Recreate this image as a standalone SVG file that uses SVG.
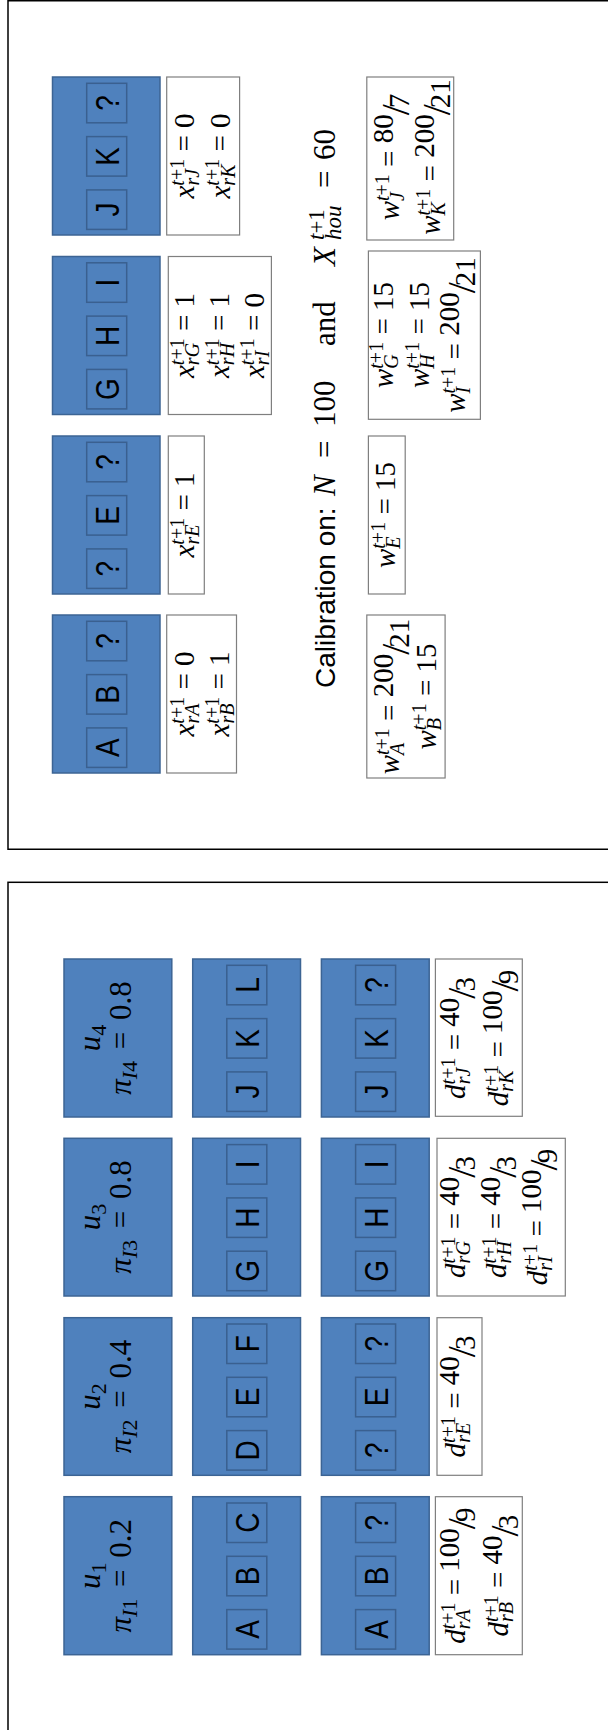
<svg xmlns="http://www.w3.org/2000/svg" width="608" height="1730" viewBox="0 0 608 1730">
<style>
.frame{fill:none;stroke:#000;stroke-width:1.5}
.bb{fill:#4F81BD;stroke:#3C6494;stroke-width:1.5}
.ib{fill:#4F81BD;stroke:#3A6090;stroke-width:1.5}
.wb{fill:#fff;stroke:#7F7F7F;stroke-width:1.2}
.lt{font-family:"Liberation Sans",Arial,sans-serif;font-size:28px;fill:#000;text-anchor:middle}
.m{font-family:"Liberation Serif","Times New Roman",serif;font-size:29px;fill:#000;text-anchor:middle}
.u{font-family:"Liberation Serif","Times New Roman",serif;font-size:31px;fill:#000;text-anchor:middle}
.cal{font-family:"Liberation Serif","Times New Roman",serif;font-size:31px;fill:#000}
.sans{font-family:"Liberation Sans",Arial,sans-serif;font-size:28px}
.i{font-style:italic}
.s{font-size:20px}
.su{font-size:22px}
.fs{font-size:40px}
</style>
<rect class="frame" x="8" y="0.75" width="660" height="848.5"/>
<rect class="frame" x="8" y="882.3" width="660" height="900"/>
<g id="connectors"/>

<!-- TOP PANEL -->
<g id="top-jk">
<rect class="bb" x="52.5" y="77" width="107.5" height="158"/>
<rect class="ib" x="86.7" y="83.3" width="40" height="39.5"/>
<rect class="ib" x="86.7" y="136.6" width="40" height="39.5"/>
<rect class="ib" x="86.7" y="189.9" width="40" height="39.5"/>
<text class="lt" transform="translate(118.7,103) rotate(-90) scale(1,1.2)">?</text>
<text class="lt" transform="translate(118.7,156.3) rotate(-90) scale(1,1.2)">K</text>
<text class="lt" transform="translate(118.7,209.6) rotate(-90) scale(1,1.2)">J</text>
</g>
<g id="top-ghi">
<rect class="bb" x="52.5" y="256.5" width="107.5" height="158"/>
<rect class="ib" x="86.7" y="262.8" width="40" height="39.5"/>
<rect class="ib" x="86.7" y="316.1" width="40" height="39.5"/>
<rect class="ib" x="86.7" y="369.4" width="40" height="39.5"/>
<text class="lt" transform="translate(118.7,282.5) rotate(-90) scale(1,1.2)">I</text>
<text class="lt" transform="translate(118.7,335.8) rotate(-90) scale(1,1.2)">H</text>
<text class="lt" transform="translate(118.7,389.1) rotate(-90) scale(1,1.2)">G</text>
</g>
<g id="top-e">
<rect class="bb" x="52.5" y="436" width="107.5" height="158"/>
<rect class="ib" x="86.7" y="442.3" width="40" height="39.5"/>
<rect class="ib" x="86.7" y="495.6" width="40" height="39.5"/>
<rect class="ib" x="86.7" y="548.9" width="40" height="39.5"/>
<text class="lt" transform="translate(118.7,462) rotate(-90) scale(1,1.2)">?</text>
<text class="lt" transform="translate(118.7,515.3) rotate(-90) scale(1,1.2)">E</text>
<text class="lt" transform="translate(118.7,568.6) rotate(-90) scale(1,1.2)">?</text>
</g>
<g id="top-ab">
<rect class="bb" x="52.5" y="615" width="107.5" height="158"/>
<rect class="ib" x="86.7" y="621.3" width="40" height="39.5"/>
<rect class="ib" x="86.7" y="674.6" width="40" height="39.5"/>
<rect class="ib" x="86.7" y="727.9" width="40" height="39.5"/>
<text class="lt" transform="translate(118.7,641) rotate(-90) scale(1,1.2)">?</text>
<text class="lt" transform="translate(118.7,694.3) rotate(-90) scale(1,1.2)">B</text>
<text class="lt" transform="translate(118.7,747.6) rotate(-90) scale(1,1.2)">A</text>
</g>

<g id="x-jk">
<rect class="wb" x="166.7" y="77" width="72.9" height="158"/>
<text class="m" transform="translate(194,156) rotate(-90)"><tspan class="i">x</tspan><tspan class="s" dy="-10.5"><tspan class="i">t</tspan>+1</tspan><tspan class="s i" dx="-26.8" dy="15.5">rJ</tspan><tspan dx="10.1" dy="-5"> = 0</tspan></text>
<text class="m" transform="translate(229.5,156) rotate(-90)"><tspan class="i">x</tspan><tspan class="s" dy="-10.5"><tspan class="i">t</tspan>+1</tspan><tspan class="s i" dx="-26.8" dy="15.5">rK</tspan><tspan dx="5.7" dy="-5"> = 0</tspan></text>
</g>
<g id="x-ghi">
<rect class="wb" x="168.3" y="256.5" width="103.1" height="158"/>
<text class="m" transform="translate(194,335.5) rotate(-90)"><tspan class="i">x</tspan><tspan class="s" dy="-10.5"><tspan class="i">t</tspan>+1</tspan><tspan class="s i" dx="-26.8" dy="15.5">rG</tspan><tspan dx="4.6" dy="-5"> = 1</tspan></text>
<text class="m" transform="translate(229,335.5) rotate(-90)"><tspan class="i">x</tspan><tspan class="s" dy="-10.5"><tspan class="i">t</tspan>+1</tspan><tspan class="s i" dx="-26.8" dy="15.5">rH</tspan><tspan dx="4.6" dy="-5"> = 1</tspan></text>
<text class="m" transform="translate(264,335.5) rotate(-90)"><tspan class="i">x</tspan><tspan class="s" dy="-10.5"><tspan class="i">t</tspan>+1</tspan><tspan class="s i" dx="-26.8" dy="15.5">rI</tspan><tspan dx="12.4" dy="-5"> = 0</tspan></text>
</g>
<g id="x-e">
<rect class="wb" x="168.3" y="436" width="36" height="158"/>
<text class="m" transform="translate(194,515) rotate(-90)"><tspan class="i">x</tspan><tspan class="s" dy="-10.5"><tspan class="i">t</tspan>+1</tspan><tspan class="s i" dx="-26.8" dy="15.5">rE</tspan><tspan dx="6.8" dy="-5"> = 1</tspan></text>
</g>
<g id="x-ab">
<rect class="wb" x="166.7" y="615" width="69.8" height="158"/>
<text class="m" transform="translate(194,694) rotate(-90)"><tspan class="i">x</tspan><tspan class="s" dy="-10.5"><tspan class="i">t</tspan>+1</tspan><tspan class="s i" dx="-26.8" dy="15.5">rA</tspan><tspan dx="6.8" dy="-5"> = 0</tspan></text>
<text class="m" transform="translate(229,694) rotate(-90)"><tspan class="i">x</tspan><tspan class="s" dy="-10.5"><tspan class="i">t</tspan>+1</tspan><tspan class="s i" dx="-26.8" dy="15.5">rB</tspan><tspan dx="6.8" dy="-5"> = 1</tspan></text>
</g>

<g id="calibration">
<text class="cal" transform="translate(335,0) rotate(-90)"><tspan class="sans" x="-688">Calibration on:</tspan><tspan class="i" x="-496">N</tspan><tspan x="-458">=</tspan><tspan x="-427">100</tspan><tspan x="-346">and</tspan><tspan class="i" x="-266">X</tspan><tspan x="-240" dy="-11" font-size="23"><tspan class="i">t</tspan>+1</tspan><tspan class="i" x="-240" dy="17" font-size="23">hou</tspan><tspan x="-188" dy="-6">=</tspan><tspan x="-160">60</tspan></text>
</g>

<g id="w-jk">
<rect class="wb" x="366.8" y="77" width="86.9" height="163"/>
<text class="m" transform="translate(399,157) rotate(-90)"><tspan class="i">w</tspan><tspan class="s" dy="-10.5"><tspan class="i">t</tspan>+1</tspan><tspan class="s i" dx="-26.8" dy="15.5">J</tspan><tspan dx="17.9" dy="-5"> = </tspan><tspan dy="-6">80</tspan><tspan class="fs" dx="-1" dy="16">/</tspan><tspan dx="-4">7</tspan></text>
<text class="m" transform="translate(440,157) rotate(-90)"><tspan class="i">w</tspan><tspan class="s" dy="-10.5"><tspan class="i">t</tspan>+1</tspan><tspan class="s i" dx="-26.8" dy="15.5">K</tspan><tspan dx="13.5" dy="-5"> = </tspan><tspan dy="-6">200</tspan><tspan class="fs" dx="-1" dy="16">/</tspan><tspan dx="-4">21</tspan></text>
</g>
<g id="w-ghi">
<rect class="wb" x="368.4" y="251" width="112" height="168.3"/>
<text class="m" transform="translate(393,335) rotate(-90)"><tspan class="i">w</tspan><tspan class="s" dy="-10.5"><tspan class="i">t</tspan>+1</tspan><tspan class="s i" dx="-26.8" dy="15.5">G</tspan><tspan dx="12.4" dy="-5"> = 15</tspan></text>
<text class="m" transform="translate(429,335) rotate(-90)"><tspan class="i">w</tspan><tspan class="s" dy="-10.5"><tspan class="i">t</tspan>+1</tspan><tspan class="s i" dx="-26.8" dy="15.5">H</tspan><tspan dx="12.4" dy="-5"> = 15</tspan></text>
<text class="m" transform="translate(465,335) rotate(-90)"><tspan class="i">w</tspan><tspan class="s" dy="-10.5"><tspan class="i">t</tspan>+1</tspan><tspan class="s i" dx="-26.8" dy="15.5">I</tspan><tspan dx="20.1" dy="-5"> = </tspan><tspan dy="-6">200</tspan><tspan class="fs" dx="-1" dy="16">/</tspan><tspan dx="-4">21</tspan></text>
</g>
<g id="w-e">
<rect class="wb" x="368.4" y="436" width="36.8" height="158"/>
<text class="m" transform="translate(395,515) rotate(-90)"><tspan class="i">w</tspan><tspan class="s" dy="-10.5"><tspan class="i">t</tspan>+1</tspan><tspan class="s i" dx="-26.8" dy="15.5">E</tspan><tspan dx="14.6" dy="-5"> = 15</tspan></text>
</g>
<g id="w-ab">
<rect class="wb" x="366.8" y="615" width="78.3" height="163"/>
<text class="m" transform="translate(399,696.5) rotate(-90)"><tspan class="i">w</tspan><tspan class="s" dy="-10.5"><tspan class="i">t</tspan>+1</tspan><tspan class="s i" dx="-26.8" dy="15.5">A</tspan><tspan dx="14.6" dy="-5"> = </tspan><tspan dy="-6">200</tspan><tspan class="fs" dx="-1" dy="16">/</tspan><tspan dx="-4">21</tspan></text>
<text class="m" transform="translate(436,696.5) rotate(-90)"><tspan class="i">w</tspan><tspan class="s" dy="-10.5"><tspan class="i">t</tspan>+1</tspan><tspan class="s i" dx="-26.8" dy="15.5">B</tspan><tspan dx="14.6" dy="-5"> = 15</tspan></text>
</g>

<!-- BOTTOM PANEL -->
<g id="u4">
<rect class="bb" x="64" y="959" width="107.8" height="158"/>
<text class="u" transform="translate(100,1038) rotate(-90)"><tspan class="i">u</tspan><tspan class="su" dy="6">4</tspan></text>
<text class="u" transform="translate(131,1038) rotate(-90)"><tspan class="i">π</tspan><tspan class="su" dy="6"><tspan class="i">I</tspan>4</tspan><tspan dx="4" dy="-6"> = </tspan><tspan dx="4">0.8</tspan></text>
</g>
<g id="u4-set">
<rect class="bb" x="192.7" y="959" width="107.8" height="158"/>
<rect class="ib" x="226.8" y="965.3" width="40" height="39.5"/>
<rect class="ib" x="226.8" y="1018.6" width="40" height="39.5"/>
<rect class="ib" x="226.8" y="1071.9" width="40" height="39.5"/>
<text class="lt" transform="translate(258.8,985) rotate(-90) scale(1,1.2)">L</text>
<text class="lt" transform="translate(258.8,1038.3) rotate(-90) scale(1,1.2)">K</text>
<text class="lt" transform="translate(258.8,1091.6) rotate(-90) scale(1,1.2)">J</text>
</g>
<g id="u4-kept">
<rect class="bb" x="321.4" y="959" width="107.8" height="158"/>
<rect class="ib" x="355.6" y="965.3" width="40" height="39.5"/>
<rect class="ib" x="355.6" y="1018.6" width="40" height="39.5"/>
<rect class="ib" x="355.6" y="1071.9" width="40" height="39.5"/>
<text class="lt" transform="translate(387.6,985) rotate(-90) scale(1,1.2)">?</text>
<text class="lt" transform="translate(387.6,1038.3) rotate(-90) scale(1,1.2)">K</text>
<text class="lt" transform="translate(387.6,1091.6) rotate(-90) scale(1,1.2)">J</text>
</g>
<g id="d-jk">
<rect class="wb" x="435.4" y="959" width="86.9" height="157.3"/>
<text class="m" transform="translate(465,1038) rotate(-90)"><tspan class="i">d</tspan><tspan class="s" dy="-10.5"><tspan class="i">t</tspan>+1</tspan><tspan class="s i" dx="-26.8" dy="15.5">rJ</tspan><tspan dx="10.1" dy="-5"> = </tspan><tspan dy="-6">40</tspan><tspan class="fs" dx="-1" dy="16">/</tspan><tspan dx="-4">3</tspan></text>
<text class="m" transform="translate(508,1038) rotate(-90)"><tspan class="i">d</tspan><tspan class="s" dy="-10.5"><tspan class="i">t</tspan>+1</tspan><tspan class="s i" dx="-26.8" dy="15.5">rK</tspan><tspan dx="5.7" dy="-5"> = </tspan><tspan dy="-6">100</tspan><tspan class="fs" dx="-1" dy="16">/</tspan><tspan dx="-4">9</tspan></text>
</g>

<g id="u3">
<rect class="bb" x="64" y="1138.3" width="107.8" height="157.7"/>
<text class="u" transform="translate(100,1217) rotate(-90)"><tspan class="i">u</tspan><tspan class="su" dy="6">3</tspan></text>
<text class="u" transform="translate(131,1217) rotate(-90)"><tspan class="i">π</tspan><tspan class="su" dy="6"><tspan class="i">I</tspan>3</tspan><tspan dx="4" dy="-6"> = </tspan><tspan dx="4">0.8</tspan></text>
</g>
<g id="u3-set">
<rect class="bb" x="192.7" y="1138.3" width="107.8" height="157.7"/>
<rect class="ib" x="226.8" y="1144.6" width="40" height="39.5"/>
<rect class="ib" x="226.8" y="1197.9" width="40" height="39.5"/>
<rect class="ib" x="226.8" y="1251.2" width="40" height="39.5"/>
<text class="lt" transform="translate(258.8,1164.3) rotate(-90) scale(1,1.2)">I</text>
<text class="lt" transform="translate(258.8,1217.6) rotate(-90) scale(1,1.2)">H</text>
<text class="lt" transform="translate(258.8,1270.9) rotate(-90) scale(1,1.2)">G</text>
</g>
<g id="u3-kept">
<rect class="bb" x="321.4" y="1138.3" width="107.8" height="157.7"/>
<rect class="ib" x="355.6" y="1144.6" width="40" height="39.5"/>
<rect class="ib" x="355.6" y="1197.9" width="40" height="39.5"/>
<rect class="ib" x="355.6" y="1251.2" width="40" height="39.5"/>
<text class="lt" transform="translate(387.6,1164.3) rotate(-90) scale(1,1.2)">I</text>
<text class="lt" transform="translate(387.6,1217.6) rotate(-90) scale(1,1.2)">H</text>
<text class="lt" transform="translate(387.6,1270.9) rotate(-90) scale(1,1.2)">G</text>
</g>
<g id="d-ghi">
<rect class="wb" x="437" y="1138.3" width="128.3" height="157.7"/>
<text class="m" transform="translate(465,1217) rotate(-90)"><tspan class="i">d</tspan><tspan class="s" dy="-10.5"><tspan class="i">t</tspan>+1</tspan><tspan class="s i" dx="-26.8" dy="15.5">rG</tspan><tspan dx="4.6" dy="-5"> = </tspan><tspan dy="-6">40</tspan><tspan class="fs" dx="-1" dy="16">/</tspan><tspan dx="-4">3</tspan></text>
<text class="m" transform="translate(506,1217) rotate(-90)"><tspan class="i">d</tspan><tspan class="s" dy="-10.5"><tspan class="i">t</tspan>+1</tspan><tspan class="s i" dx="-26.8" dy="15.5">rH</tspan><tspan dx="4.6" dy="-5"> = </tspan><tspan dy="-6">40</tspan><tspan class="fs" dx="-1" dy="16">/</tspan><tspan dx="-4">3</tspan></text>
<text class="m" transform="translate(547,1217) rotate(-90)"><tspan class="i">d</tspan><tspan class="s" dy="-10.5"><tspan class="i">t</tspan>+1</tspan><tspan class="s i" dx="-26.8" dy="15.5">rI</tspan><tspan dx="12.4" dy="-5"> = </tspan><tspan dy="-6">100</tspan><tspan class="fs" dx="-1" dy="16">/</tspan><tspan dx="-4">9</tspan></text>
</g>

<g id="u2">
<rect class="bb" x="64" y="1317.7" width="107.8" height="157.6"/>
<text class="u" transform="translate(100,1396.5) rotate(-90)"><tspan class="i">u</tspan><tspan class="su" dy="6">2</tspan></text>
<text class="u" transform="translate(131,1396.5) rotate(-90)"><tspan class="i">π</tspan><tspan class="su" dy="6"><tspan class="i">I</tspan>2</tspan><tspan dx="4" dy="-6"> = </tspan><tspan dx="4">0.4</tspan></text>
</g>
<g id="u2-set">
<rect class="bb" x="192.7" y="1317.7" width="107.8" height="157.6"/>
<rect class="ib" x="226.8" y="1324" width="40" height="39.5"/>
<rect class="ib" x="226.8" y="1377.3" width="40" height="39.5"/>
<rect class="ib" x="226.8" y="1430.6" width="40" height="39.5"/>
<text class="lt" transform="translate(258.8,1343.7) rotate(-90) scale(1,1.2)">F</text>
<text class="lt" transform="translate(258.8,1397) rotate(-90) scale(1,1.2)">E</text>
<text class="lt" transform="translate(258.8,1450.3) rotate(-90) scale(1,1.2)">D</text>
</g>
<g id="u2-kept">
<rect class="bb" x="321.4" y="1317.7" width="107.8" height="157.6"/>
<rect class="ib" x="355.6" y="1324" width="40" height="39.5"/>
<rect class="ib" x="355.6" y="1377.3" width="40" height="39.5"/>
<rect class="ib" x="355.6" y="1430.6" width="40" height="39.5"/>
<text class="lt" transform="translate(387.6,1343.7) rotate(-90) scale(1,1.2)">?</text>
<text class="lt" transform="translate(387.6,1397) rotate(-90) scale(1,1.2)">E</text>
<text class="lt" transform="translate(387.6,1450.3) rotate(-90) scale(1,1.2)">?</text>
</g>
<g id="d-e">
<rect class="wb" x="437" y="1317.7" width="45" height="157.6"/>
<text class="m" transform="translate(465,1396.5) rotate(-90)"><tspan class="i">d</tspan><tspan class="s" dy="-10.5"><tspan class="i">t</tspan>+1</tspan><tspan class="s i" dx="-26.8" dy="15.5">rE</tspan><tspan dx="6.8" dy="-5"> = </tspan><tspan dy="-6">40</tspan><tspan class="fs" dx="-1" dy="16">/</tspan><tspan dx="-4">3</tspan></text>
</g>

<g id="u1">
<rect class="bb" x="64" y="1496.7" width="107.8" height="158"/>
<text class="u" transform="translate(100,1575.7) rotate(-90)"><tspan class="i">u</tspan><tspan class="su" dy="6">1</tspan></text>
<text class="u" transform="translate(131,1575.7) rotate(-90)"><tspan class="i">π</tspan><tspan class="su" dy="6"><tspan class="i">I</tspan>1</tspan><tspan dx="4" dy="-6"> = </tspan><tspan dx="4">0.2</tspan></text>
</g>
<g id="u1-set">
<rect class="bb" x="192.7" y="1496.7" width="107.8" height="158"/>
<rect class="ib" x="226.8" y="1503" width="40" height="39.5"/>
<rect class="ib" x="226.8" y="1556.3" width="40" height="39.5"/>
<rect class="ib" x="226.8" y="1609.6" width="40" height="39.5"/>
<text class="lt" transform="translate(258.8,1522.7) rotate(-90) scale(1,1.2)">C</text>
<text class="lt" transform="translate(258.8,1576) rotate(-90) scale(1,1.2)">B</text>
<text class="lt" transform="translate(258.8,1629.3) rotate(-90) scale(1,1.2)">A</text>
</g>
<g id="u1-kept">
<rect class="bb" x="321.4" y="1496.7" width="107.8" height="158"/>
<rect class="ib" x="355.6" y="1503" width="40" height="39.5"/>
<rect class="ib" x="355.6" y="1556.3" width="40" height="39.5"/>
<rect class="ib" x="355.6" y="1609.6" width="40" height="39.5"/>
<text class="lt" transform="translate(387.6,1522.7) rotate(-90) scale(1,1.2)">?</text>
<text class="lt" transform="translate(387.6,1576) rotate(-90) scale(1,1.2)">B</text>
<text class="lt" transform="translate(387.6,1629.3) rotate(-90) scale(1,1.2)">A</text>
</g>
<g id="d-ab">
<rect class="wb" x="435.4" y="1496.7" width="86.9" height="158"/>
<text class="m" transform="translate(465,1575.7) rotate(-90)"><tspan class="i">d</tspan><tspan class="s" dy="-10.5"><tspan class="i">t</tspan>+1</tspan><tspan class="s i" dx="-26.8" dy="15.5">rA</tspan><tspan dx="6.8" dy="-5"> = </tspan><tspan dy="-6">100</tspan><tspan class="fs" dx="-1" dy="16">/</tspan><tspan dx="-4">9</tspan></text>
<text class="m" transform="translate(508,1575.7) rotate(-90)"><tspan class="i">d</tspan><tspan class="s" dy="-10.5"><tspan class="i">t</tspan>+1</tspan><tspan class="s i" dx="-26.8" dy="15.5">rB</tspan><tspan dx="6.8" dy="-5"> = </tspan><tspan dy="-6">40</tspan><tspan class="fs" dx="-1" dy="16">/</tspan><tspan dx="-4">3</tspan></text>
</g>
</svg>
